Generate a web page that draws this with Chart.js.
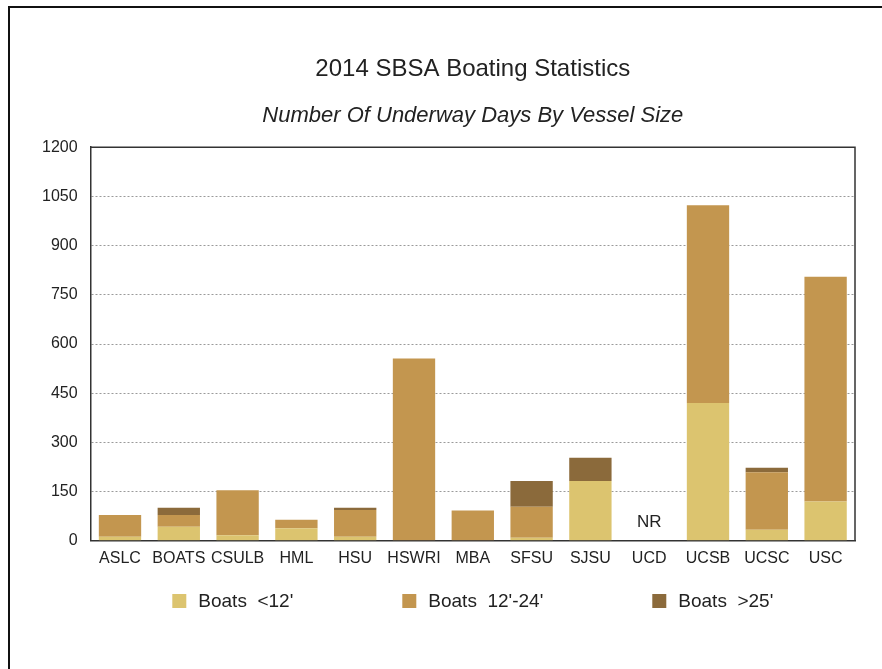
<!DOCTYPE html>
<html>
<head>
<meta charset="utf-8">
<script src="https://cdn.jsdelivr.net/npm/chart.js@4/dist/chart.umd.min.js"></script>
<style>
  html, body { margin: 0; padding: 0; background: #fff; }
  #wrap { position: relative; width: 882px; height: 669px; overflow: hidden; }
  #frame { position: absolute; left: 8px; top: 6px; width: 1000px; height: 1000px; border: 2px solid #111; box-sizing: border-box; }
  canvas { position: absolute; left: 0; top: 0; }
</style>
</head>
<body>
<div id="wrap">
  <div id="frame"></div>
  <canvas id="c" width="882" height="669"></canvas>
</div>
<script>
const categories = ["ASLC", "BOATS", "CSULB", "HML", "HSU", "HSWRI", "MBA", "SFSU", "SJSU", "UCD", "UCSB", "UCSC", "USC"];
const seriesNames = ["Boats  <12'", "Boats  12'-24'", "Boats  >25'"];
const boatsUnder12 = [12, 43, 17, 38, 12, 0, 0, 9, 182, null, 420, 34, 120];
const boats12to24  = [67, 36, 137, 26, 82, 556, 92, 95, 0, null, 603, 175, 685];
const boatsOver25  = [0, 22, 0, 0, 7, 0, 0, 78, 71, null, 0, 14, 0];
const yTicks = [0, 150, 300, 450, 600, 750, 900, 1050, 1200];
const notReported = ["UCD"];
const notReportedLabel = "NR";

const colors = ["#dcc46f", "#c3964f", "#8b6a3b"];
const FONT = "'Liberation Sans', Arial, Helvetica, sans-serif";
const TEXT = "#222";

const framePlugin = {
  id: 'frame',
  afterDraw(chart) {
    const {ctx, chartArea: a, scales} = chart;
    ctx.save();
    ctx.strokeStyle = '#333';
    ctx.lineWidth = 1.5;
    ctx.beginPath();
    ctx.moveTo(a.left, a.top);
    ctx.lineTo(a.right, a.top);
    ctx.lineTo(a.right, a.bottom);
    ctx.stroke();
    ctx.fillStyle = TEXT;
    ctx.font = "17px " + FONT;
    ctx.textAlign = 'center';
    ctx.textBaseline = 'middle';
    notReported.forEach(cat => {
      const x = scales.x.getPixelForValue(categories.indexOf(cat));
      const y = scales.y.getPixelForValue(56);
      ctx.fillText(notReportedLabel, x, y);
    });
    ctx.font = "19px " + FONT;
    ctx.textAlign = 'left';
    const box = 14, gapText = 12, gapItem = 109;
    const widths = seriesNames.map(n => box + gapText + ctx.measureText(n).width);
    const total = widths.reduce((s, w) => s + w, 0) + gapItem * (widths.length - 1);
    let x = (a.left + a.right) / 2 - total / 2;
    const ly = 601;
    seriesNames.forEach((n, i) => {
      ctx.fillStyle = colors[i];
      ctx.fillRect(x, ly - box / 2, box, box);
      ctx.fillStyle = TEXT;
      ctx.fillText(n, x + box + gapText, ly + 1);
      x += widths[i] + gapItem;
    });
    ctx.restore();
  }
};

new Chart(document.getElementById('c'), {
  type: 'bar',
  data: {
    labels: categories,
    datasets: [
      { label: seriesNames[0], data: boatsUnder12, backgroundColor: colors[0] },
      { label: seriesNames[1], data: boats12to24, backgroundColor: colors[1] },
      { label: seriesNames[2], data: boatsOver25, backgroundColor: colors[2] }
    ]
  },
  options: {
    responsive: false,
    animation: false,
    events: [],
    layout: { padding: { left: 29, right: 27, top: 0, bottom: 93 } },
    datasets: { bar: { categoryPercentage: 0.9, barPercentage: 0.8, borderWidth: 0 } },
    plugins: {
      legend: { display: false },
      tooltip: { enabled: false },
      title: {
        display: true,
        text: '2014 SBSA Boating Statistics',
        fullSize: false,
        color: TEXT,
        font: { family: FONT, size: 24, weight: 'normal' },
        padding: { top: 55, bottom: 0 }
      },
      subtitle: {
        display: true,
        text: 'Number Of Underway Days By Vessel Size',
        fullSize: false,
        color: TEXT,
        font: { family: FONT, size: 22, style: 'italic', weight: 'normal' },
        padding: { top: 19, bottom: 18 }
      }
    },
    scales: {
      x: {
        stacked: true,
        grid: { display: false, drawTicks: false },
        border: { display: true, color: '#333', width: 1.5 },
        ticks: { color: TEXT, font: { family: FONT, size: 16 }, padding: 8, maxRotation: 0, autoSkip: false }
      },
      y: {
        stacked: true,
        min: 0,
        max: 1200,
        afterBuildTicks(scale) { scale.ticks = yTicks.map(v => ({ value: v })); },
        grid: { color: '#9a9a9a', lineWidth: 1, drawTicks: false },
        border: { display: true, color: '#333', width: 1.5, dash: [2, 2] },
        ticks: { color: TEXT, font: { family: FONT, size: 16 }, padding: 13, callback: v => String(v) }
      }
    }
  },
  plugins: [framePlugin]
});
</script>
</body>
</html>
